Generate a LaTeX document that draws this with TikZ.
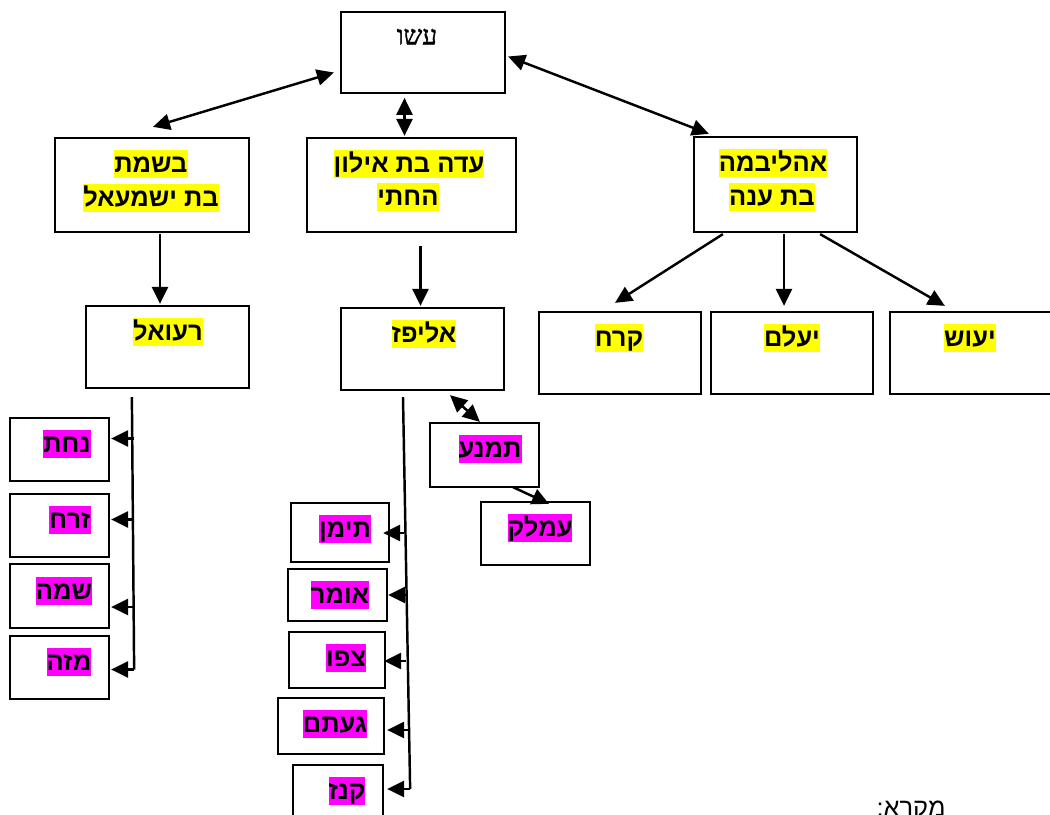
\documentclass[tikz,border=0pt]{standalone}
\usepackage{fontspec}
\setmainfont{Liberation Sans}
\newfontfamily\hebfont[Script=Hebrew]{Liberation Sans}
\newfontfamily\hebserif[Script=Hebrew, FakeBold=1.5]{Liberation Serif}
\usetikzlibrary{calc}
\usetikzlibrary{arrows.meta}
\TeXXeTstate=1
\definecolor{label-yellow}{RGB}{255, 255, 0}
\definecolor{label-magenta}{RGB}{255, 0, 255}
\newcommand{\hebline}[1]{\beginR #1\endR}

\begin{document}
\begin{tikzpicture}[x=0.02cm, y=-0.02cm,
  box/.style={draw=black, line width=1.3pt, inner sep=0pt},
  name-plain/.style={inner sep=0pt, text height=12.8pt, text depth=3.3pt, font=\fontsize{15}{17}\hebserif},
  name-yellow/.style={fill=label-yellow, inner sep=0pt, text height=12.8pt, text depth=3.3pt, font=\fontsize{14.5}{17}\hebfont\bfseries},
  name-magenta/.style={name-yellow, fill=label-magenta},
  link/.style={line width=1.4pt},
  arr/.style={link, -{Triangle[length=0.34cm, width=0.32cm]}},
  dbl/.style={link, {Triangle[length=0.34cm, width=0.32cm]}-{Triangle[length=0.34cm, width=0.32cm]}}]
\useasboundingbox (0,0) rectangle (1050,814);
\clip (0,0) rectangle (1050,814);

% boxes
\node[box, minimum width=3.28cm, minimum height=1.62cm] (esav) at (423,52.5) {};
\node[box, minimum width=3.88cm, minimum height=1.88cm] (basemat) at (152,185) {};
\node[box, minimum width=4.18cm, minimum height=1.88cm] (ada) at (411.5,185) {};
\node[box, minimum width=3.26cm, minimum height=1.90cm] (oholi) at (775.5,184.5) {};
\node[box, minimum width=3.24cm, minimum height=1.64cm] (korach) at (620,353) {};
\node[box, minimum width=3.24cm, minimum height=1.64cm] (yalam) at (792,353) {};
\node[box, minimum width=3.40cm, minimum height=1.64cm] (yeush) at (975,353) {};
\node[box, minimum width=3.26cm, minimum height=1.64cm] (reuel) at (167.5,347) {};
\node[box, minimum width=3.26cm, minimum height=1.64cm] (elifaz) at (422.5,349) {};
\node[box, minimum width=2.18cm, minimum height=1.28cm] (timna) at (484.5,455) {};
\node[box, minimum width=2.18cm, minimum height=1.26cm] (amalek) at (535.5,533.5) {};
\node[box, minimum width=1.98cm, minimum height=1.26cm] (nachat) at (59.5,449.5) {};
\node[box, minimum width=1.98cm, minimum height=1.26cm] (zerach) at (59.5,525.5) {};
\node[box, minimum width=1.98cm, minimum height=1.28cm] (shama) at (59.5,596) {};
\node[box, minimum width=1.98cm, minimum height=1.26cm] (miza) at (59.5,667.5) {};
\node[box, minimum width=1.96cm, minimum height=1.18cm] (teiman) at (340,532.5) {};
\node[box, minimum width=1.98cm, minimum height=1.04cm] (omar) at (337.5,595) {};
\node[box, minimum width=1.92cm, minimum height=1.12cm] (tzefo) at (337,660) {};
\node[box, minimum width=2.12cm, minimum height=1.12cm] (gatam) at (331,726) {};
\node[box, minimum width=1.80cm, minimum height=1.30cm] (kenaz) at (338,797.5) {};

% names
\node[name-plain] (esav-name) at (417,36) {\hebline{עשו}};
\node[name-yellow] (basemat-a) at (151,164) {\hebline{בשמת}};
\node[name-yellow] (basemat-b) at (151,198) {\hebline{בת ישמעאל}};
\node[name-yellow] (ada-a) at (409,164) {\hebline{עדה בת אילון}};
\node[name-yellow] (ada-b) at (408,197) {\hebline{החתי}};
\node[name-yellow] (oholi-a) at (773,163) {\hebline{אהליבמה}};
\node[name-yellow] (oholi-b) at (772,197) {\hebline{בת ענה}};
\node[name-yellow] (korach-name) at (619,338) {\hebline{קרח}};
\node[name-yellow] (yalam-name) at (792,338) {\hebline{יעלם}};
\node[name-yellow] (yeush-name) at (970,338) {\hebline{יעוש}};
\node[name-yellow] (reuel-name) at (168,332) {\hebline{רעואל}};
\node[name-yellow] (elifaz-name) at (424,334) {\hebline{אליפז}};
\node[name-magenta] (timna-name) at (490,449) {\hebline{תמנע}};
\node[name-magenta] (amalek-name) at (540,528) {\hebline{עמלק}};
\node[name-magenta] (nachat-name) at (67,444) {\hebline{נחת}};
\node[name-magenta] (zerach-name) at (70,520) {\hebline{זרח}};
\node[name-magenta] (shama-name) at (64,591) {\hebline{שמה}};
\node[name-magenta] (miza-name) at (69,662) {\hebline{מזה}};
\node[name-magenta] (teiman-name) at (345,529) {\hebline{תימן}};
\node[name-magenta] (omar-name) at (340,595) {\hebline{אומר}};
\node[name-magenta] (tzefo-name) at (346,658) {\hebline{צפו}};
\node[name-magenta] (gatam-name) at (335,724) {\hebline{געתם}};
\node[name-magenta] (kenaz-name) at (347,791) {\hebline{קנז}};
\node[anchor=north, inner sep=0pt, font=\fontsize{14.5}{17}\hebfont] (legend) at (911,801) {\hebline{מקרא:}};

% wives
\draw[dbl] ($(esav.west)+(-6,20)$) -- ($(basemat.north)+(1,-10)$);
\draw[dbl] ($(ada.north)+(-7,-39)$) -- ($(ada.north)+(-7,-1)$);
\draw[dbl] ($(esav.east)+(2,4)$) -- ($(oholi.north west)+(16,-2)$);

% sons
\coordinate (bm-foot) at ($(basemat.south)+(8,1)$);
\draw[arr] (bm-foot) -- ($(bm-foot |- reuel.north)+(0,-1)$);
\coordinate (ada-foot) at ($(ada.south)+(9,13)$);
\draw[arr] (ada-foot) -- ($(ada-foot |- elifaz.north)+(0,-1)$);
\draw[arr] ($(oholi.south west)+(30,1)$) -- ($(korach.north)+(-5,-8)$);
\coordinate (ol-foot) at ($(oholi.south)+(8.5,1)$);
\draw[arr] (ol-foot) -- ($(ol-foot |- yalam.north)+(0,-5)$);
\draw[arr] ($(oholi.south east)+(-38,1)$) -- ($(yeush.north west)+(56,-5)$);

% sons of reuel
\coordinate (reuel-top) at ($(reuel.south west)+(47,8)$);
\coordinate (reuel-end) at ($(miza.east)+(24,2)$);
\draw[link] (reuel-top) -- (reuel-end);
\draw[arr] ($(nachat.east)+(24,-11)$) -- ($(nachat.east)+(1,-11)$);
\draw[arr] ($(zerach.east)+(24,-6)$) -- ($(zerach.east)+(1,-6)$);
\draw[arr] ($(shama.east)+(24,11)$) -- ($(shama.east)+(1,11)$);
\draw[arr] (reuel-end) -- ($(miza.east)+(1,2)$);

% sons of elifaz
\coordinate (elifaz-top) at ($(elifaz.south)+(-19.5,6)$);
\coordinate (elifaz-end) at ($(kenaz.east)+(26,-8.5)$);
\draw[link] (elifaz-top) -- (elifaz-end);
\draw[dbl] ($(elifaz.south)+(27.5,4)$) -- ($(timna.north west)+(51,0)$);
\draw[arr] ($(timna.south)+(28.5,-1)$) -- ($(amalek.north)+(13.5,3)$);
\draw[arr] ($(teiman.east)+(14,0.5)$) -- ($(teiman.east)+(-7,0.5)$);
\draw[arr] ($(omar.east)+(20,0)$) -- ($(omar.east)+(0,0)$);
\draw[arr] ($(tzefo.east)+(20,1)$) -- ($(tzefo.east)+(-2,1)$);
\draw[arr] ($(gatam.east)+(24,4)$) -- ($(gatam.east)+(2,4)$);
\draw[arr] (elifaz-end) -- ($(kenaz.east)+(3,-8.5)$);
\end{tikzpicture}
\end{document}
